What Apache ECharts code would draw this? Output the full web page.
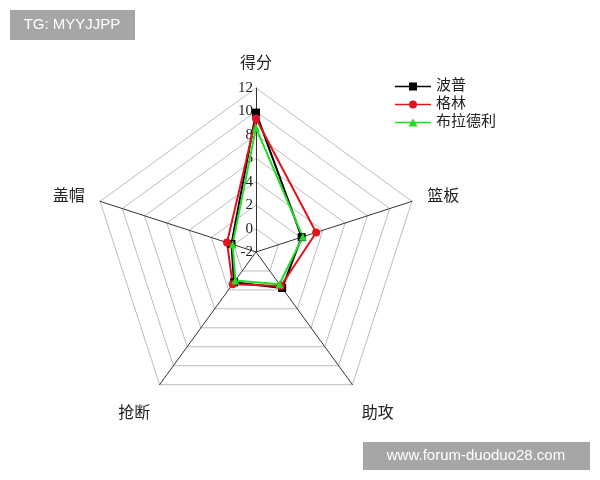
<!DOCTYPE html>
<html>
<head>
<meta charset="utf-8">
<script src="https://cdn.jsdelivr.net/npm/echarts@6/dist/echarts.min.js"></script>
<style>
  html, body { margin: 0; padding: 0; background: #fff; }
  #chart { width: 600px; height: 480px; }
</style>
</head>
<body>
<div id="chart"></div>
<script>
// 指标顺序（逆时针）：得分、盖帽、抢断、助攻、篮板
const indicators = ["得分", "盖帽", "抢断", "助攻", "篮板"];
const players = ["波普", "格林", "布拉德利"];
const bopu = [9.9, 0.2, 1.2, 1.8, 2.1];
const gelin = [9.4, 0.6, 1.4, 1.6, 3.4];
const bulade = [8.6, 0.1, 1.0, 1.4, 2.2];
const axisMin = -2;
const axisMax = 12;

const font = "'Liberation Serif', 'Noto Sans CJK SC', serif";
const colors = ["#000", "#e0141e", "#22dd22"];
const symbols = ["rect", "circle", "triangle"];

//图例图标：线 + 标记，框 36x8
const lineBar = "M0,3.2h36v1.6h-36z ";
const legendIcons = [
    "path://" + lineBar + "M14,0h8v8h-8z",
    "path://" + lineBar + "M14,4a4,4 0 1,1 8,0a4,4 0 1,1 -8,0z",
    "path://" + lineBar + "M18,0L22.5,8L13.5,8z",
];

let chart = echarts.init(document.getElementById("chart"));

let options = {
    backgroundColor: "#fff",
    legend: {
        orient: "vertical",
        left: 390,
        top: 74,
        itemGap: 3,
        itemWidth: 36,
        itemHeight: 8,
        textStyle: { fontFamily: font, fontSize: 15, color: "#222" },
        data: players.map(function (p, i) {
            return { name: p, icon: legendIcons[i], itemStyle: { color: colors[i] } };
        }),
    },
    radar: {
        center: [256, 252],
        radius: 164,
        startAngle: 90,
        splitNumber: 7,
        shape: "polygon",
        indicator: indicators.map(function (name, i) {
            return {
                name: name,
                min: axisMin,
                max: axisMax,
                axisLabel: { show: i === 0 },
            };
        }),
        axisName: {
            color: "#222",
            fontFamily: font,
            fontSize: 16,
            formatter: function (name) {
                if (name === "抢断" || name === "助攻") {
                    return "{b|" + name + "}";
                }
                return name;
            },
            rich: {
                b: { padding: [32, 0, 0, 0], fontFamily: font, fontSize: 16, color: "#222" },
            },
        },
        nameGap: 16,
        axisLine: { lineStyle: { color: "#333", width: 1 } },
        splitLine: { lineStyle: { color: "#bdbdbd", width: 1 } },
        splitArea: { show: false },
        axisTick: { show: false },
        axisLabel: {
            show: false,
            color: "#222",
            fontFamily: font,
            fontSize: 15,
            align: "right",
            margin: 3,
        },
    },
    series: [
        {
            type: "radar",
            symbolSize: 8,
            z: 3,
            data: [bopu, gelin, bulade].map(function (vals, i) {
                return {
                    name: players[i],
                    value: vals,
                    symbol: symbols[i],
                    lineStyle: { color: colors[i], width: 2 },
                    itemStyle: { color: colors[i] },
                };
            }),
        },
    ],
    graphic: [
        {
            type: "group",
            left: 10,
            top: 10,
            children: [
                { type: "rect", shape: { x: 0, y: 0, width: 125, height: 30 }, style: { fill: "#a6a6a6" } },
                { type: "text", x: 62, y: 15, style: { text: "TG: MYYJJPP", fill: "#fff", font: "15px 'Liberation Sans', Arial", align: "center", verticalAlign: "middle" } },
            ],
        },
        {
            type: "group",
            left: 363,
            top: 442,
            children: [
                { type: "rect", shape: { x: 0, y: 0, width: 227, height: 28 }, style: { fill: "#a6a6a6" } },
                { type: "text", x: 113, y: 14, style: { text: "www.forum-duoduo28.com", fill: "#fff", font: "15px 'Liberation Sans', Arial", align: "center", verticalAlign: "middle" } },
            ],
        },
    ],
};

chart.setOption(options);
</script>
</body>
</html>
